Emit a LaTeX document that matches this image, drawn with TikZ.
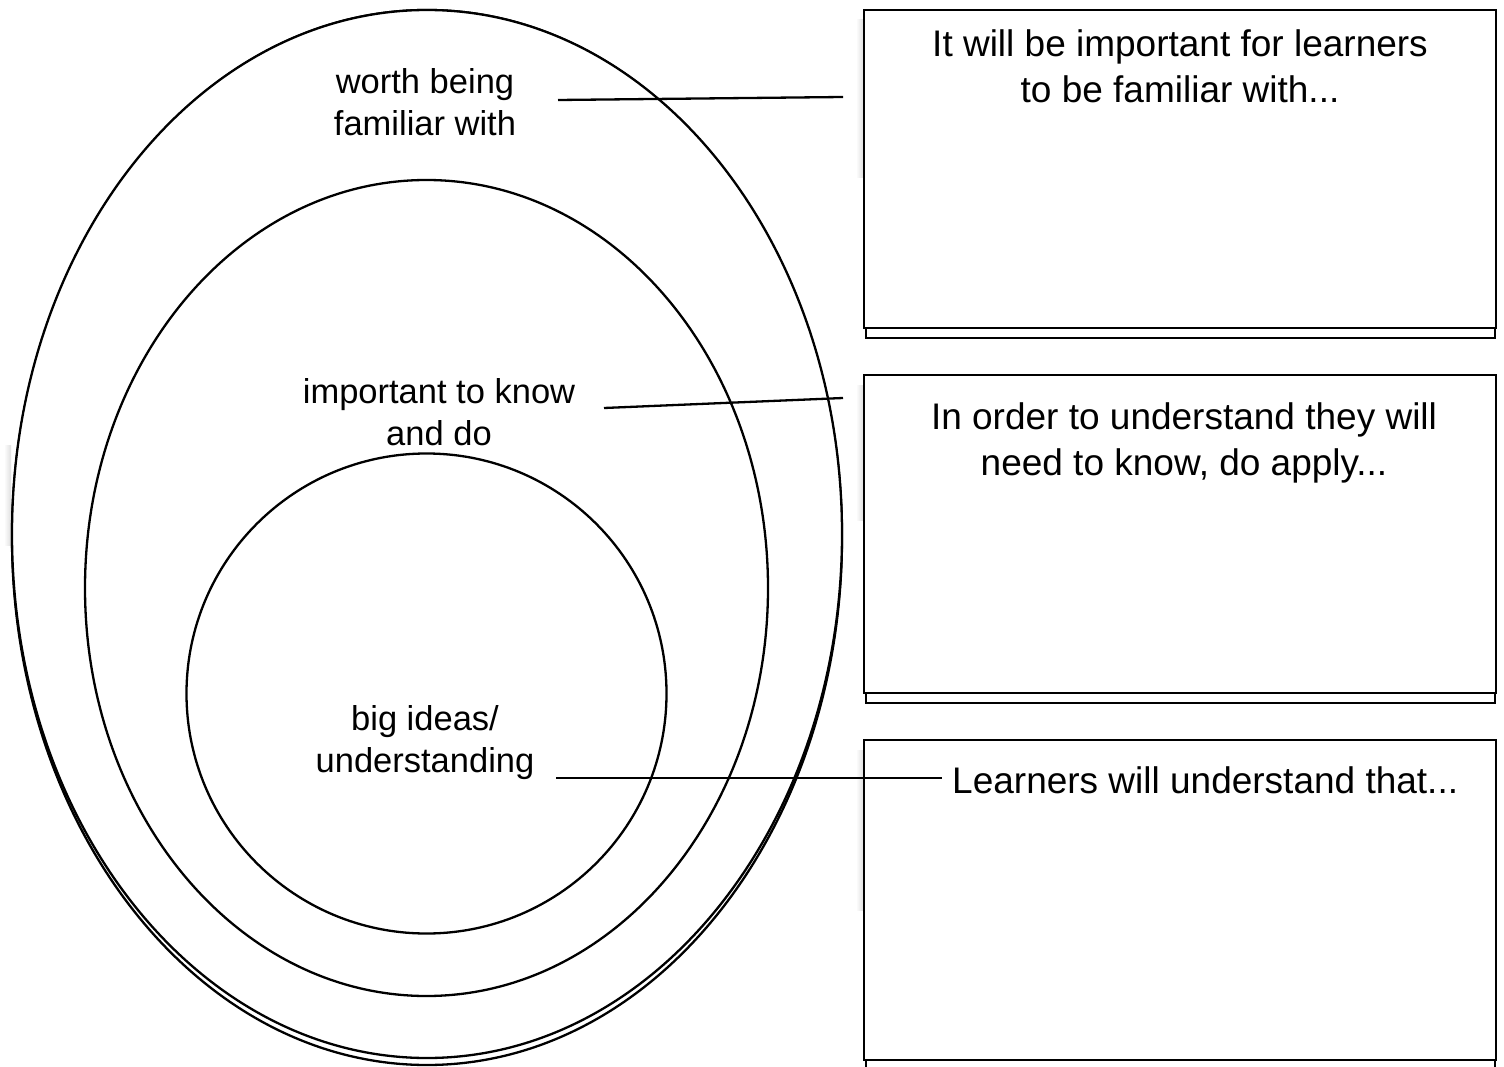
\documentclass[tikz,border=0pt]{standalone}
\usepackage{fontspec}
\setmainfont{Liberation Sans}
\begin{document}
\begin{tikzpicture}[x=1pt,y=-1pt,
  ln/.style={line width=2.3pt},
  ovl/.style={ln, draw=black},
  panel/.style={ln, draw=black, fill=white},
  strip/.style={ln, draw=black, fill=white},
  lab/.style={align=center, font=\fontsize{34.5}{42}\selectfont, inner sep=0pt},
  rlab/.style={align=center, font=\fontsize{37}{46}\selectfont, inner sep=0pt},
  shad/.style={left color=white, right color=gray!25, draw=none}
]
\useasboundingbox[fill=white] (0,0) rectangle (1504,1067);
% shadows
\shade[shad] (4,445) rectangle (11,545);
\shade[shad] (856,20) rectangle (863,178);
\shade[shad] (856,385) rectangle (863,520);
\shade[shad] (856,750) rectangle (863,910);
% ellipses
\draw[ovl] (427,537.5) ellipse [x radius=415, y radius=527.5];
\draw[ovl, fill=white] (427,534) ellipse [x radius=415, y radius=524];
\draw[ovl] (426.5,588) ellipse [x radius=341.5, y radius=408];
\draw[ovl] (426.5,693.5) circle [radius=240];
% boxes
\draw[strip] (866,328) rectangle (1495,338);
\draw[panel] (864,10) rectangle (1496,328);
\draw[strip] (866,693) rectangle (1495,703);
\draw[panel] (864,375) rectangle (1496,693);
\draw[strip] (866,1060) rectangle (1495,1075);
\draw[panel] (864,740) rectangle (1496,1060);
% labels
\node[lab] (l1) at (425,102) {worth being\\familiar with};
\node[lab] (l2) at (439,412) {important to know\\and do};
\node[lab] (l3) at (425,743) {big ideas/\\understanding};
\node[rlab] (r1) at (1180,66) {It will be important for learners\\to be familiar with...};
\node[rlab] (r2) at (1184,443) {In order to understand they will\\need to know, do apply...};
\node[rlab, anchor=west] (r3) at (952,780) {Learners will understand that...};
% connectors
\coordinate (a1) at (558,100);
\coordinate (b1) at (843,97);
\coordinate (a2) at (604,408);
\coordinate (b2) at (843,398);
\coordinate (a3) at (556,778);
\draw[ln] (a1) -- (b1);
\draw[ln] (a2) -- (b2);
\draw[ln] (a3) -- ([xshift=-10pt]r3.west |- a3);
\end{tikzpicture}
\end{document}
